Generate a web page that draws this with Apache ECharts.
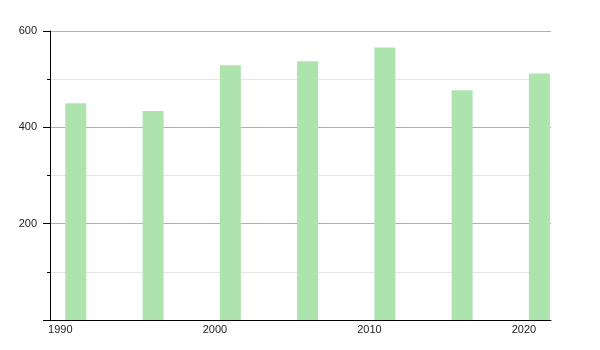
<!DOCTYPE html>
<html>
<head>
<meta charset="utf-8">
<script src="https://cdn.jsdelivr.net/npm/echarts@6/dist/echarts.min.js"></script>
<style>html,body{margin:0;padding:0;background:#fff;}#c{width:600px;height:350px;}</style>
</head>
<body>
<div id="c"></div>
<script>
const years = [1991, 1996, 2001, 2006, 2011, 2016, 2021];
const values = [450, 434, 529, 537, 566, 477, 512];
const xTickLabels = [1990, 2000, 2010, 2020];
const yTickLabels = [200, 400, 600];

const chart = echarts.init(document.getElementById('c'), null, {renderer: 'canvas'});
chart.setOption({
  animation: false,
  grid: {left: 50, right: 49, top: 31, bottom: 30, containLabel: false},
  xAxis: {
    type: 'value',
    min: 1989.33,
    max: 2021.75,
    axisLine: {show: true, onZero: false, lineStyle: {color: '#000', width: 1}},
    axisTick: {show: false},
    splitLine: {show: false},
    axisLabel: {
      customValues: xTickLabels,
      showMinLabel: true,
      showMaxLabel: true,
      margin: 4,
      fontSize: 11,
      fontFamily: 'Liberation Sans',
      color: '#222',
      formatter: v => String(v)
    }
  },
  yAxis: {
    type: 'value',
    min: 0,
    max: 600,
    interval: 200,
    axisLine: {show: true, lineStyle: {color: '#000', width: 1}},
    axisTick: {show: true, length: 7, lineStyle: {color: '#000'}},
    minorTick: {show: true, splitNumber: 2, length: 3, lineStyle: {color: '#000'}},
    splitLine: {show: true, lineStyle: {color: '#b0b0b0', width: 1}},
    minorSplitLine: {show: true, lineStyle: {color: '#e6e6e6', width: 1}},
    axisLabel: {
      margin: 13,
      fontSize: 11,
      fontFamily: 'Liberation Sans',
      color: '#222',
      formatter: v => (yTickLabels.indexOf(v) >= 0 ? String(v) : '')
    }
  },
  series: [{
    type: 'bar',
    data: years.map((y, i) => [y, values[i]]),
    barWidth: 21,
    itemStyle: {color: '#ade4ad'},
    clip: true
  }]
});
</script>
</body>
</html>
